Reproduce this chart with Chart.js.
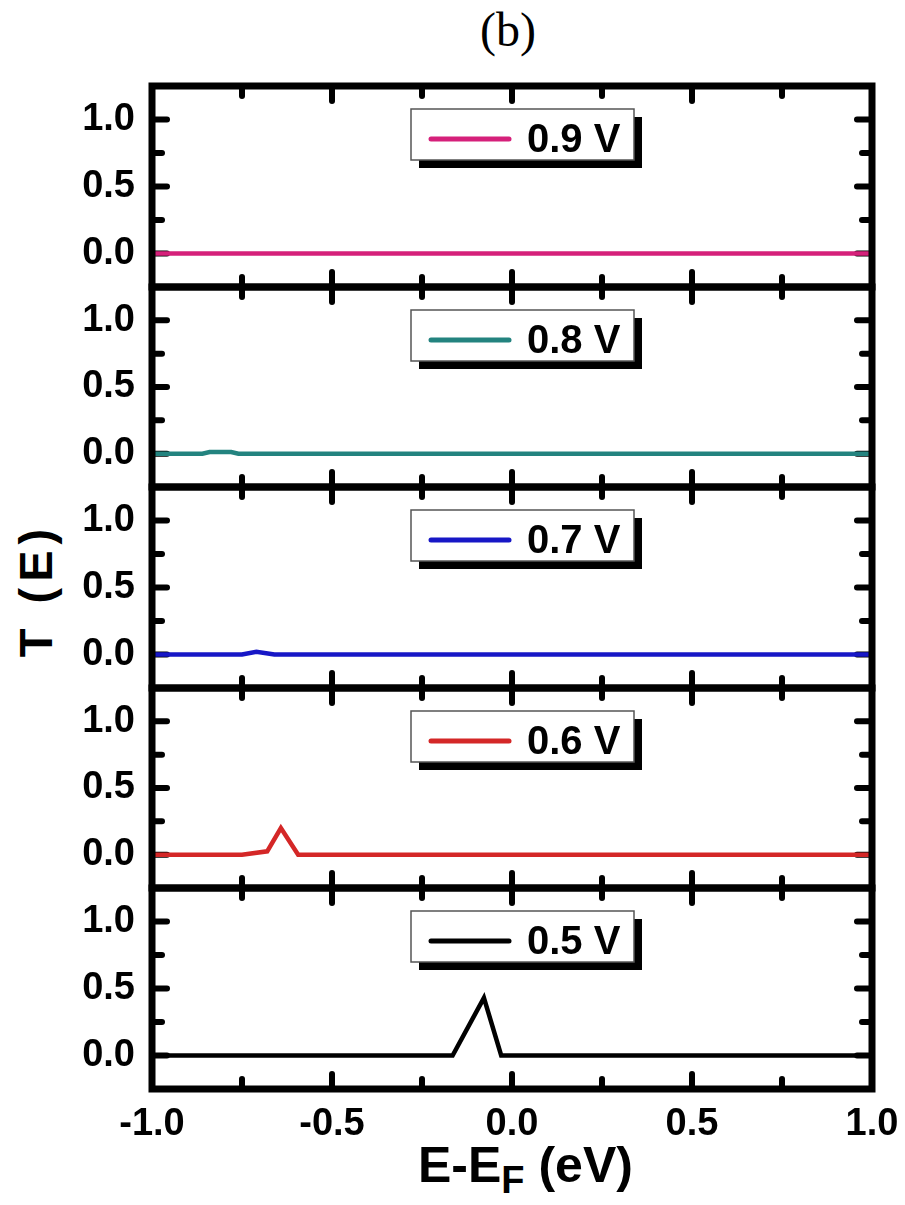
<!DOCTYPE html>
<html>
<head>
<meta charset="utf-8">
<script src="https://cdn.jsdelivr.net/npm/chart.js@4.4.1/dist/chart.umd.min.js"></script>
<style>
    html, body { margin: 0; padding: 0; background: #fff; }
    #figura { position: relative; width: 905px; height: 1205px; background: #fff; overflow: hidden; }
    #figura canvas { position: absolute; left: 0; }
    .etiqueta { position: absolute; white-space: nowrap; color: #000; }
    #letra { left: 458px; top: 2px; width: 100px; text-align: center; font: 48px "Liberation Serif", serif; line-height: 56px; }
    #tituloY { left: 36px; top: 590px; transform: translate(-50%, -50%) rotate(-90deg); font: bold 47px "Liberation Sans", Arial, sans-serif; line-height: 50px; letter-spacing: 6px; }
    #tituloX { left: 418px; top: 1140px; font: bold 50px "Liberation Sans", Arial, sans-serif; line-height: 50px; }
    #tituloX sub { font-size: 38px; line-height: 0; vertical-align: -0.3em; }
</style>
</head>
<body>
<div id="figura">
    <div id="letra" class="etiqueta">(b)</div>
    <div id="tituloY" class="etiqueta">T (E)</div>
    <div id="tituloX" class="etiqueta">E-E<sub>F</sub> (eV)</div>
</div>
<script>
// Curvas de transmisión T(E) para cada voltaje aplicado (de arriba hacia abajo)
const voltajes = ["0.9 V", "0.8 V", "0.7 V", "0.6 V", "0.5 V"];

const energia09 = [-1.0, 1.0];
const transm09 = [0, 0];

const energia08 = [-1.0, -0.86, -0.84, -0.78, -0.76, 1.0];
const transm08 = [0, 0, 0.012, 0.012, 0, 0];

const energia07 = [-1.0, -0.75, -0.71, -0.66, 1.0];
const transm07 = [0, 0, 0.02, 0, 0];

const energia06 = [-1.0, -0.75, -0.68, -0.642, -0.594, 1.0];
const transm06 = [0, 0, 0.025, 0.2, 0, 0];

const energia05 = [-1.0, -0.165, -0.078, -0.03, 1.0];
const transm05 = [0, 0, 0.43, 0, 0];

const energias = [energia09, energia08, energia07, energia06, energia05];
const transmisiones = [transm09, transm08, transm07, transm06, transm05];

// etiquetas de los ejes y marcas menores
const ticksX = [-1.0, -0.5, 0.0, 0.5, 1.0];
const ticksY = [0.0, 0.5, 1.0];
const menoresX = [-0.75, -0.25, 0.25, 0.75];
const menoresY = [0.25, 0.75];

const colores = ["#d5207a", "#23837f", "#1717c6", "#d42727", "#000000"];

// bordes de cada panel en pixeles (el último valor es el borde inferior)
const bordes = [86, 287, 487, 688, 888, 1089];
const MARGEN = 6;
const ALTO_EJE_X = 62;
const FUENTE = '"Liberation Sans", Arial, sans-serif';

Chart.defaults.font.family = FUENTE;
Chart.defaults.font.weight = "bold";
Chart.defaults.font.size = 38;
Chart.defaults.color = "#000";

/* Dibuja el marco grueso con marcas hacia adentro y la leyenda con sombra */
const marcoPlugin = {
    id: "marco",
    beforeDatasetsDraw(chart) {
        const ctx = chart.ctx;
        const a = chart.chartArea;
        const sx = chart.scales.x, sy = chart.scales.y;
        ctx.save();
        ctx.strokeStyle = "#000";
        ctx.lineWidth = 6;
        ctx.lineCap = "round";
        const marca = (x1, y1, x2, y2) => { ctx.beginPath(); ctx.moveTo(x1, y1); ctx.lineTo(x2, y2); ctx.stroke(); };
        ticksX.concat(menoresX).forEach((v) => {
            const largo = ticksX.includes(v) ? 15 : 10;
            const px = sx.getPixelForValue(v);
            marca(px, a.top, px, a.top + largo);
            marca(px, a.bottom, px, a.bottom - largo);
        });
        ticksY.concat(menoresY).forEach((v) => {
            const largo = ticksY.includes(v) ? 15 : 10;
            const py = sy.getPixelForValue(v);
            marca(a.left, py, a.left + largo, py);
            marca(a.right, py, a.right - largo, py);
        });
        ctx.restore();
    },
    afterDatasetsDraw(chart) {
        const ctx = chart.ctx;
        const a = chart.chartArea;
        const ds = chart.data.datasets[0];
        ctx.save();
        // marco
        ctx.strokeStyle = "#000";
        ctx.lineWidth = 7;
        ctx.strokeRect(a.left, a.top, a.right - a.left, a.bottom - a.top);

        // leyenda
        const lx = 411, ly = a.top + 23, lw = 223, lh = 51;
        ctx.fillStyle = "#000";
        ctx.fillRect(lx + 8, ly + 8, lw, lh);
        ctx.fillStyle = "#fff";
        ctx.fillRect(lx, ly, lw, lh);
        ctx.strokeStyle = "#555";
        ctx.lineWidth = 1.5;
        ctx.strokeRect(lx, ly, lw, lh);

        ctx.strokeStyle = ds.borderColor;
        ctx.lineWidth = 5;
        ctx.lineCap = "round";
        ctx.beginPath();
        ctx.moveTo(lx + 20, ly + 30);
        ctx.lineTo(lx + 98, ly + 30);
        ctx.stroke();

        ctx.fillStyle = "#000";
        ctx.font = "bold 40px " + FUENTE;
        ctx.textBaseline = "alphabetic";
        ctx.textAlign = "left";
        ctx.fillText(ds.label, lx + 116, ly + 43);
        ctx.restore();
    }
};

const figura = document.getElementById("figura");

voltajes.forEach((voltaje, i) => {
    const ultimo = i === voltajes.length - 1;
    const altoPanel = bordes[i + 1] - bordes[i];
    const canvas = document.createElement("canvas");
    const alto = MARGEN + altoPanel + (ultimo ? ALTO_EJE_X : MARGEN);
    canvas.width = 905;
    canvas.height = alto;
    canvas.style.top = (bordes[i] - MARGEN) + "px";
    canvas.style.width = "905px";
    canvas.style.height = alto + "px";
    figura.appendChild(canvas);

    const puntos = energias[i].map((e, k) => ({ x: e, y: transmisiones[i][k] }));

    new Chart(canvas.getContext("2d"), {
        type: "line",
        data: {
            datasets: [{
                label: voltaje,
                data: puntos,
                borderColor: colores[i],
                borderWidth: 4.5,
                tension: 0,
                pointRadius: 0,
                fill: false
            }]
        },
        options: {
            responsive: false,
            devicePixelRatio: 1,
            animation: false,
            events: [],
            layout: { padding: { top: MARGEN, bottom: ultimo ? 0 : MARGEN, left: 0, right: 33 } },
            plugins: { legend: { display: false }, tooltip: { enabled: false } },
            scales: {
                x: {
                    type: "linear",
                    min: -1,
                    max: 1,
                    display: ultimo,
                    afterBuildTicks: (s) => { s.ticks = ticksX.map((v) => ({ value: v })); },
                    afterFit: (s) => {
                        s.height = ultimo ? ALTO_EJE_X : 0;
                        s.paddingLeft = 0;
                        s.paddingRight = 0;
                    },
                    grid: { display: false, drawTicks: false },
                    border: { display: false },
                    ticks: {
                        padding: 13,
                        maxRotation: 0,
                        autoSkip: false,
                        callback: (v) => v.toFixed(1)
                    }
                },
                y: {
                    min: -0.25,
                    max: 1.25,
                    afterBuildTicks: (s) => { s.ticks = ticksY.map((v) => ({ value: v })); },
                    afterFit: (s) => {
                        // las etiquetas no tocan los bordes, no hace falta reservar espacio extra
                        s.width = 152;
                        s.paddingTop = 0;
                        s.paddingBottom = 0;
                    },
                    grid: { display: false, drawTicks: false },
                    border: { display: false },
                    ticks: {
                        padding: 17,
                        callback: (v) => v.toFixed(1)
                    }
                }
            }
        },
        plugins: [marcoPlugin]
    });
});
</script>
</body>
</html>
